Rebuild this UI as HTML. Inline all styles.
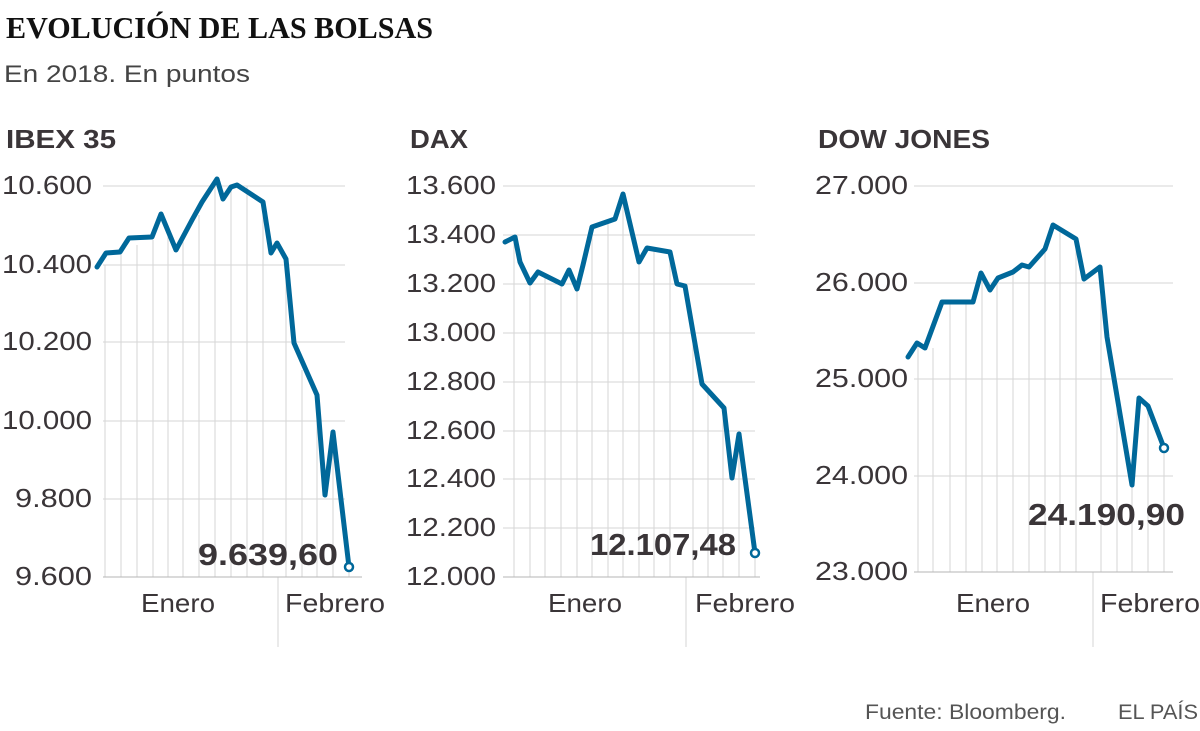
<!DOCTYPE html>
<html><head><meta charset="utf-8"><style>
body{margin:0;background:#fff;width:1200px;height:731px;overflow:hidden}
svg{display:block}
text{font-family:"Liberation Sans",sans-serif;fill:#3a3538}
.t{font-size:26px}
.h{font-size:26px;font-weight:bold}
.v{font-size:31px;font-weight:bold}
.g{stroke:#d6d6d6;stroke-width:1}
.s{fill:none;stroke:#00689a;stroke-width:5;stroke-linejoin:round;stroke-linecap:round}
</style></head><body>
<svg width="1200" height="731" viewBox="0 0 1200 731">
<text x="6" y="38" style="font-family:'Liberation Serif',serif;font-weight:bold;font-size:31px;fill:#111" textLength="427" lengthAdjust="spacingAndGlyphs">EVOLUCIÓN DE LAS BOLSAS</text>
<text x="4" y="82" style="font-size:24px;fill:#444" textLength="246" lengthAdjust="spacingAndGlyphs">En 2018. En puntos</text>

<!-- IBEX -->
<text class="h" x="6" y="148" textLength="110" lengthAdjust="spacingAndGlyphs">IBEX 35</text>
<g class="g">
<line x1="103" y1="186" x2="345" y2="186"/><line x1="103" y1="265" x2="345" y2="265"/><line x1="103" y1="342" x2="345" y2="342"/><line x1="103" y1="421" x2="345" y2="421"/><line x1="103" y1="499" x2="345" y2="499"/>
<path d="M105 265V577M121 252V577M137 245V577M153 240V577M168 235V577M183 240V577M199 215V577M215 186V577M231 186V577M247 186V577M263 200V577M286 270V577M302 370V577M317 400V577M333 440V577M349 570V577"/>
<line x1="278" y1="577" x2="278" y2="647"/>
<line x1="103" y1="577" x2="362" y2="577" style="stroke:#b5b5b5"/>
</g>
<g class="t" lengthAdjust="spacingAndGlyphs">
<text x="2" y="194" textLength="90" lengthAdjust="spacingAndGlyphs">10.600</text><text x="2" y="273" textLength="90" lengthAdjust="spacingAndGlyphs">10.400</text><text x="2" y="350" textLength="90" lengthAdjust="spacingAndGlyphs">10.200</text><text x="2" y="429" textLength="90" lengthAdjust="spacingAndGlyphs">10.000</text><text x="15" y="507" textLength="77" lengthAdjust="spacingAndGlyphs">9.800</text><text x="15" y="585" textLength="77" lengthAdjust="spacingAndGlyphs">9.600</text>
</g>
<polyline class="s" points="97,267 106,253 120,252 129,238 152,237 161,214 176,250 192,220 202,202 217,179 223,199 231,187 237,185 263,202 271,253 277,243 286,259 294,343 317,395 325,495 333,432 349,567"/>
<circle cx="349" cy="567" r="4" fill="#fff" stroke="#00689a" stroke-width="2.5"/>
<text class="v" x="198" y="565" textLength="140" lengthAdjust="spacingAndGlyphs">9.639,60</text>
<text class="t" x="141" y="612" textLength="74" lengthAdjust="spacingAndGlyphs">Enero</text>
<text class="t" x="285" y="612" textLength="100" lengthAdjust="spacingAndGlyphs">Febrero</text>

<!-- DAX -->
<text class="h" x="410" y="148" textLength="58" lengthAdjust="spacingAndGlyphs">DAX</text>
<g class="g">
<line x1="503" y1="186" x2="755" y2="186"/><line x1="503" y1="235" x2="755" y2="235"/><line x1="503" y1="284" x2="755" y2="284"/><line x1="503" y1="333" x2="755" y2="333"/><line x1="503" y1="382" x2="755" y2="382"/><line x1="503" y1="431" x2="755" y2="431"/><line x1="503" y1="479" x2="755" y2="479"/><line x1="503" y1="528" x2="755" y2="528"/>
<path d="M514 240V577M530 285V577M545 278V577M561 286V577M577 290V577M592 228V577M608 222V577M623 196V577M639 264V577M654 250V577M670 254V577M693 330V577M708 390V577M723 410V577M739 436V577M755 555V577"/>
<line x1="686" y1="577" x2="686" y2="647"/>
<line x1="503" y1="577" x2="760" y2="577" style="stroke:#b5b5b5"/>
</g>
<g class="t">
<text x="406" y="194" textLength="90" lengthAdjust="spacingAndGlyphs">13.600</text><text x="406" y="243" textLength="90" lengthAdjust="spacingAndGlyphs">13.400</text><text x="406" y="292" textLength="90" lengthAdjust="spacingAndGlyphs">13.200</text><text x="406" y="341" textLength="90" lengthAdjust="spacingAndGlyphs">13.000</text><text x="406" y="390" textLength="90" lengthAdjust="spacingAndGlyphs">12.800</text><text x="406" y="439" textLength="90" lengthAdjust="spacingAndGlyphs">12.600</text><text x="406" y="487" textLength="90" lengthAdjust="spacingAndGlyphs">12.400</text><text x="406" y="536" textLength="90" lengthAdjust="spacingAndGlyphs">12.200</text><text x="406" y="585" textLength="90" lengthAdjust="spacingAndGlyphs">12.000</text>
</g>
<polyline class="s" points="505,242 515,237 520,262 530,283 538,272 562,284 569,270 577,289 583,265 592,227 615,219 623,194 639,262 647,248 670,252 677,284 685,286 702,384 724,408 732,478 739,434 755,553"/>
<circle cx="755" cy="553" r="4" fill="#fff" stroke="#00689a" stroke-width="2.5"/>
<text class="v" x="590" y="555" textLength="146" lengthAdjust="spacingAndGlyphs">12.107,48</text>
<text class="t" x="548" y="612" textLength="74" lengthAdjust="spacingAndGlyphs">Enero</text>
<text class="t" x="695" y="612" textLength="100" lengthAdjust="spacingAndGlyphs">Febrero</text>

<!-- DOW -->
<text class="h" x="818" y="148" textLength="172" lengthAdjust="spacingAndGlyphs">DOW JONES</text>
<g class="g">
<line x1="914" y1="186" x2="1173" y2="186"/><line x1="914" y1="283" x2="1173" y2="283"/><line x1="914" y1="379" x2="1173" y2="379"/><line x1="914" y1="476" x2="1173" y2="476"/>
<path d="M918 345V572M933 348V572M950 304V572M966 304V572M982 275V572M997 280V572M1013 274V572M1029 268V572M1045 250V572M1060 230V572M1076 240V572M1101 268V572M1117 400V572M1132 480V572M1148 408V572M1164 450V572"/>
<line x1="1093" y1="572" x2="1093" y2="647"/>
<line x1="914" y1="572" x2="1173" y2="572" style="stroke:#b5b5b5"/>
</g>
<g class="t">
<text x="815" y="194" textLength="93" lengthAdjust="spacingAndGlyphs">27.000</text><text x="815" y="291" textLength="93" lengthAdjust="spacingAndGlyphs">26.000</text><text x="815" y="387" textLength="93" lengthAdjust="spacingAndGlyphs">25.000</text><text x="815" y="484" textLength="93" lengthAdjust="spacingAndGlyphs">24.000</text><text x="815" y="580" textLength="93" lengthAdjust="spacingAndGlyphs">23.000</text>
</g>
<polyline class="s" points="908,357 917,343 925,348 942,302 973,302 981,273 990,290 998,278 1013,272 1022,265 1029,267 1045,249 1053,225 1076,239 1084,279 1100,267 1107,337 1132,485 1139,398 1148,406 1164,448"/>
<circle cx="1164" cy="448" r="4" fill="#fff" stroke="#00689a" stroke-width="2.5"/>
<text class="v" x="1028" y="525" textLength="157" lengthAdjust="spacingAndGlyphs">24.190,90</text>
<text class="t" x="956" y="612" textLength="74" lengthAdjust="spacingAndGlyphs">Enero</text>
<text class="t" x="1100" y="612" textLength="100" lengthAdjust="spacingAndGlyphs">Febrero</text>

<text x="865" y="719" style="font-size:21px;fill:#555" textLength="201" lengthAdjust="spacingAndGlyphs">Fuente: Bloomberg.</text>
<text x="1118" y="719" style="font-size:21px;fill:#555" textLength="80" lengthAdjust="spacingAndGlyphs">EL PAÍS</text>
</svg>
</body></html>
